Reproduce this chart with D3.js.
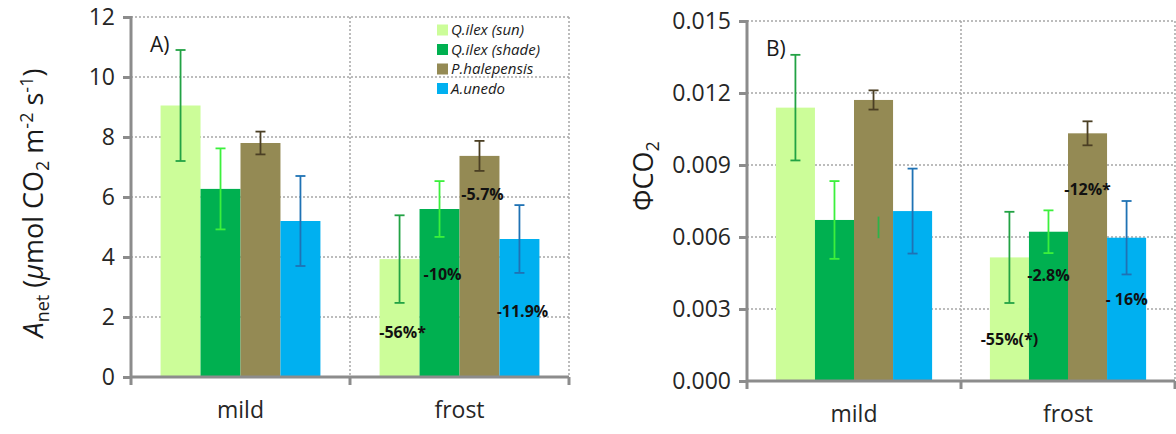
<!DOCTYPE html>
<html>
<head>
<meta charset="utf-8">
<script src="https://cdn.jsdelivr.net/npm/d3@7"></script>
<style>
  body { margin: 0; background: #fff; }
  svg { display: block; font-family: "Open Sans", sans-serif; }
  .tick text { fill: #262626; }
</style>
</head>
<body>
<svg id="chart" width="1176" height="434"></svg>
<script>
// DATA

const categories = ["mild", "frost"];
const species = ["Q.ilex (sun)", "Q.ilex (shade)", "P.halepensis", "A.unedo"];

// panel A: net assimilation (umol CO2 m-2 s-1)
const anetMild = [9.05, 6.27, 7.80, 5.20];
const anetMildErr = [1.85, 1.35, 0.38, 1.50];
const anetFrost = [3.93, 5.60, 7.37, 4.60];
const anetFrostErr = [1.46, 0.93, 0.50, 1.13];
const anetTicks = [0, 2, 4, 6, 8, 10, 12];
const anetFrostLabels = ["-56%*", "-10%", "-5.7%", "-11.9%"];
const anetLabelAt = [1.5, 3.43, 6.1, 2.2];

// panel B: quantum yield of CO2
const phiMild = [0.01139, 0.00671, 0.01171, 0.00708];
const phiMildErr = [0.00220, 0.00162, 0.00040, 0.00177];
const phiFrost = [0.00515, 0.00622, 0.01032, 0.00597];
const phiFrostErr = [0.00190, 0.00089, 0.00050, 0.00153];
const phiTicks = [0, 0.003, 0.006, 0.009, 0.012, 0.015];
const phiFrostLabels = ["-55%(*)", "-2.8%", "-12%*", "- 16%"];
const phiLabelAt = [0.00175, 0.00438, 0.0080, 0.00342];

// a loose error segment drawn inside the mild P.halepensis bar of panel B
const phiStray = [0.00595, 0.00685];

// STYLE

const barColors = ["#ccfd99", "#00b050", "#948a54", "#00b0f0"];
const errColors = ["#22a244", "#3cf03c", "#4b3f24", "#1f72b4"];
const axisColor = "#8c8c8c";
const gridColor = "#a6a6a6";

const svg = d3.select("#chart");

function rows(mild, mildErr, frost, frostErr) {
    const out = [];
    species.forEach((s, i) => {
        out.push({ cat: "mild", sp: s, i: i, v: mild[i], e: mildErr[i] });
        out.push({ cat: "frost", sp: s, i: i, v: frost[i], e: frostErr[i] });
    });
    return out;
}

function drawPanel(opt) {
    const g = svg.append("g");

    const x = d3.scaleBand().domain(categories).range([opt.left, opt.right]);
    const xs = d3.scaleBand().domain(species).range([0, x.bandwidth()]).paddingOuter(0.74);
    const y = d3.scaleLinear().domain(opt.domain).range([opt.bottom, opt.top]);

    // horizontal grid
    g.append("g").selectAll("line")
        .data(opt.ticks.filter(t => t > 0))
        .join("line")
        .attr("x1", opt.left).attr("x2", opt.right)
        .attr("y1", d => y(d)).attr("y2", d => y(d))
        .attr("stroke", gridColor).attr("stroke-width", 1.5)
        .attr("stroke-dasharray", "2,2");

    // vertical grid at category boundaries
    g.append("g").selectAll("line")
        .data(categories)
        .join("line")
        .attr("x1", d => x(d) + x.bandwidth()).attr("x2", d => x(d) + x.bandwidth())
        .attr("y1", opt.top).attr("y2", opt.bottom)
        .attr("stroke", gridColor).attr("stroke-width", 1.5)
        .attr("stroke-dasharray", "2,2");

    // bars
    g.append("g").selectAll("rect")
        .data(opt.data)
        .join("rect")
        .attr("x", d => x(d.cat) + xs(d.sp))
        .attr("width", xs.bandwidth())
        .attr("y", d => y(d.v))
        .attr("height", d => y(0) - y(d.v))
        .attr("fill", d => barColors[d.i]);

    // error bars
    const eb = g.append("g").selectAll("g")
        .data(opt.data)
        .join("g")
        .attr("stroke", d => errColors[d.i])
        .attr("stroke-width", 1.8);
    const cx = d => x(d.cat) + xs(d.sp) + xs.bandwidth() / 2;
    eb.append("line")
        .attr("x1", cx).attr("x2", cx)
        .attr("y1", d => y(d.v + d.e)).attr("y2", d => y(d.v - d.e));
    eb.append("line")
        .attr("x1", d => cx(d) - 5).attr("x2", d => cx(d) + 5)
        .attr("y1", d => y(d.v + d.e)).attr("y2", d => y(d.v + d.e));
    eb.append("line")
        .attr("x1", d => cx(d) - 5).attr("x2", d => cx(d) + 5)
        .attr("y1", d => y(d.v - d.e)).attr("y2", d => y(d.v - d.e));

    if (opt.stray) {
        const sx = x("mild") + xs("P.halepensis") + xs.bandwidth() / 2 + 5;
        g.append("line")
            .attr("x1", sx).attr("x2", sx)
            .attr("y1", y(opt.stray[0])).attr("y2", y(opt.stray[1]))
            .attr("stroke", "#2db34a").attr("stroke-width", 1.8);
    }

    // frost change labels
    g.append("g").selectAll("text")
        .data(opt.labels)
        .join("text")
        .attr("x", (d, i) => x("frost") + xs(species[i]) + xs.bandwidth() / 2 + opt.labelShift)
        .attr("y", (d, i) => y(opt.labelAt[i]))
        .attr("dy", "0.35em")
        .attr("text-anchor", "middle")
        .attr("font-size", 16)
        .attr("font-weight", "bold")
        .attr("fill", "#111")
        .text(d => d);

    // y axis
    const ya = g.append("g")
        .attr("transform", `translate(${opt.left},0)`)
        .call(d3.axisLeft(y).tickValues(opt.ticks).tickFormat(opt.format)
            .tickSize(8).tickPadding(8));
    ya.select(".domain").remove();
    ya.selectAll(".tick line").attr("stroke", axisColor).attr("stroke-width", 3);
    ya.selectAll(".tick text").attr("font-size", 23).attr("font-family", "Open Sans");
    g.append("line")
        .attr("x1", opt.left).attr("x2", opt.left)
        .attr("y1", opt.top - 1).attr("y2", opt.bottom + 8)
        .attr("stroke", axisColor).attr("stroke-width", 3);

    // x axis
    const xa = g.append("g")
        .attr("transform", `translate(0,${opt.bottom})`)
        .call(d3.axisBottom(x).tickSize(0).tickPadding(25));
    xa.select(".domain").remove();
    xa.selectAll(".tick text").attr("font-size", 23).attr("font-family", "Open Sans");
    g.append("line")
        .attr("x1", opt.left).attr("x2", opt.right)
        .attr("y1", opt.bottom).attr("y2", opt.bottom)
        .attr("stroke", axisColor).attr("stroke-width", 3);
    g.append("g").selectAll("line")
        .data(categories)
        .join("line")
        .attr("x1", d => x(d) + x.bandwidth()).attr("x2", d => x(d) + x.bandwidth())
        .attr("y1", opt.bottom).attr("y2", opt.bottom + 8)
        .attr("stroke", axisColor).attr("stroke-width", 3);

    // panel letter
    g.append("text")
        .attr("x", opt.left + 19)
        .attr("y", opt.top + 35)
        .attr("font-size", 21)
        .attr("fill", "#1a1a1a")
        .text(opt.letter);

    return { g, x, y };
}

const panelA = drawPanel({
    left: 131, right: 569, top: 17, bottom: 377,
    domain: [0, 12], ticks: anetTicks, format: d3.format("d"),
    data: rows(anetMild, anetMildErr, anetFrost, anetFrostErr),
    labels: anetFrostLabels, labelAt: anetLabelAt, labelShift: 3, letter: "A)"
});

const panelB = drawPanel({
    left: 747, right: 1175, top: 21, bottom: 381,
    domain: [0, 0.015], ticks: phiTicks, format: d3.format(".3f"),
    data: rows(phiMild, phiMildErr, phiFrost, phiFrostErr),
    labels: phiFrostLabels, labelAt: phiLabelAt, labelShift: 0, letter: "B)", stray: phiStray
});

// legend (inside panel A)
const legend = svg.append("g").attr("transform", "translate(437,30)");
const item = legend.selectAll("g")
    .data(species)
    .join("g")
    .attr("transform", (d, i) => `translate(0,${i * 19.5})`);
item.append("rect")
    .attr("x", 0).attr("y", -5.5)
    .attr("width", 11).attr("height", 11)
    .attr("fill", (d, i) => barColors[i]);
item.append("text")
    .attr("x", 14).attr("dy", "0.35em")
    .attr("font-size", 15).attr("font-style", "italic")
    .attr("fill", "#1a1a1a")
    .text(d => d);

// y axis titles
const titleA = svg.append("text")
    .attr("transform", "translate(43,203) rotate(-90)")
    .attr("text-anchor", "middle")
    .attr("font-size", 27)
    .attr("fill", "#1a1a1a");
titleA.append("tspan").attr("font-style", "italic").text("A");
titleA.append("tspan").attr("font-size", 18).attr("dy", 6).text("net");
titleA.append("tspan").attr("dy", -6).text(" (");
titleA.append("tspan").attr("font-style", "italic").text("\u03bc");
titleA.append("tspan").text("mol CO");
titleA.append("tspan").attr("font-size", 18).attr("dy", 6).text("2");
titleA.append("tspan").attr("dy", -6).text(" m");
titleA.append("tspan").attr("font-size", 18).attr("dy", -10).text("-2");
titleA.append("tspan").attr("dy", 10).text(" s");
titleA.append("tspan").attr("font-size", 18).attr("dy", -10).text("-1");
titleA.append("tspan").attr("dy", 10).text(")");

const titleB = svg.append("text")
    .attr("transform", "translate(653,176) rotate(-90)")
    .attr("text-anchor", "middle")
    .attr("font-size", 27)
    .attr("fill", "#1a1a1a");
titleB.append("tspan").text("\u03a6CO");
titleB.append("tspan").attr("font-size", 18).attr("dy", 6).text("2");
</script>
</body>
</html>
